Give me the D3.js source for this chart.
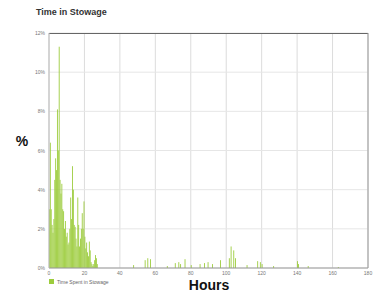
<!DOCTYPE html>
<html>
<head>
<meta charset="utf-8">
<script src="https://cdn.jsdelivr.net/npm/d3@7"></script>
<style>
  body { margin: 0; background: #fff; }
  svg { display: block; font-family: "Liberation Sans", Arial, sans-serif; }
</style>
</head>
<body>
<div id="chart"></div>
<script>
// hours (bin start) and % of time spent in stowage
const hours = [
  0, 0.5, 1, 1.5, 2, 2.5, 3, 3.5, 4, 4.5, 5, 5.5, 6, 6.5, 7, 7.5, 8, 8.5, 9, 9.5,
  10, 10.5, 11, 11.5, 12, 12.5, 13, 13.5, 14, 14.5, 15, 15.5, 16, 16.5, 17, 17.5,
  18, 18.5, 19, 19.5, 20, 20.5, 21, 21.5, 22, 22.5, 23, 23.5, 24, 24.5, 25, 25.5,
  26, 26.5, 27,
  47.5, 54, 55.5, 57, 66.5, 71, 73, 74, 76.5, 80, 85, 87.5, 89.5, 92, 96.5,
  101.5, 102.5, 104, 105, 111.5, 117.5, 119, 120, 126.5, 140, 140.5, 146, 163
];
const percent = [
  3.0, 6.4, 3.0, 2.2, 1.8, 2.5, 4.5, 5.6, 5.0, 8.1, 6.0, 11.3, 4.5, 3.8, 4.3, 3.0, 2.9, 2.0, 2.4, 1.6,
  1.8, 1.2, 1.3, 2.0, 3.6, 2.5, 5.2, 4.0, 2.2, 2.1, 1.5, 1.1, 3.6, 2.2, 1.1, 1.5,
  2.0, 2.8, 2.0, 3.4, 1.6, 1.0, 1.3, 0.8, 0.6, 1.35, 0.9, 0.3, 0.2, 0.1, 0.2, 0.4,
  0.66, 0.5, 0.2,
  0.15, 0.4, 0.5, 0.45, 0.1, 0.25, 0.3, 0.2, 0.45, 0.15, 0.2, 0.25, 0.3, 0.2, 0.4,
  0.5, 1.1, 0.9, 0.5, 0.15, 0.35, 0.3, 0.2, 0.1, 0.35, 0.2, 0.1, 0.05
];
const xTicks = [0, 20, 40, 60, 80, 100, 120, 140, 160, 180];
const yTicks = [0, 2, 4, 6, 8, 10, 12];
const binWidth = 0.5;

const data = hours.map((h, i) => ({ h: h, v: percent[i] }));

const W = 381, H = 294;
const M = { LEFT: 49, RIGHT: 13, TOP: 33, BOTTOM: 26 };
const plotW = W - M.LEFT - M.RIGHT;
const plotH = H - M.TOP - M.BOTTOM;

const svg = d3.select("#chart").append("svg")
    .attr("width", W)
    .attr("height", H);

const x = d3.scaleLinear().domain([0, 180]).range([0, plotW]);
const y = d3.scaleLinear().domain([0, 12]).range([plotH, 0]);

// title
svg.append("text")
    .attr("x", 36)
    .attr("y", 15)
    .style("font-size", "9px")
    .style("font-weight", "bold")
    .attr("fill", "#333")
    .text("Time in Stowage");

const g = svg.append("g")
    .attr("transform", `translate(${M.LEFT},${M.TOP})`);

// grid
g.selectAll(".vgrid").data(xTicks).join("line")
    .attr("x1", d => x(d)).attr("x2", d => x(d))
    .attr("y1", 0).attr("y2", plotH)
    .attr("stroke", "#dcdcdc").attr("stroke-width", 1);
g.selectAll(".hgrid").data(yTicks).join("line")
    .attr("x1", 0).attr("x2", plotW)
    .attr("y1", d => y(d)).attr("y2", d => y(d))
    .attr("stroke", "#e6e6e6").attr("stroke-width", 1);

// bars
g.selectAll(".bar").data(data).join("rect")
    .attr("x", d => x(d.h))
    .attr("y", d => y(d.v))
    .attr("width", x(binWidth) - x(0))
    .attr("height", d => plotH - y(d.v))
    .attr("fill", "#9ccc3c");

// frame
g.append("line").attr("x1", 0).attr("x2", plotW).attr("y1", 0.5).attr("y2", 0.5)
    .attr("stroke", "#666").attr("stroke-width", 1.2);
g.append("line").attr("x1", plotW).attr("x2", plotW).attr("y1", 0).attr("y2", plotH)
    .attr("stroke", "#999");
g.append("line").attr("x1", 0).attr("x2", plotW).attr("y1", plotH).attr("y2", plotH)
    .attr("stroke", "#999");
g.append("line").attr("x1", 0).attr("x2", 0).attr("y1", 0).attr("y2", plotH)
    .attr("stroke", "#bbb");

// tick labels
g.selectAll(".ylab").data(yTicks).join("text")
    .attr("x", -4)
    .attr("y", d => y(d) + 2)
    .attr("text-anchor", "end")
    .style("font-size", "5px")
    .attr("fill", "#777")
    .text(d => d + "%");
g.selectAll(".xlab").data(xTicks).join("text")
    .attr("x", d => x(d))
    .attr("y", plotH + 7)
    .attr("text-anchor", "middle")
    .style("font-size", "5px")
    .attr("fill", "#777")
    .text(d => d);

// axis titles
svg.append("text")
    .attr("x", 22)
    .attr("y", 146)
    .attr("text-anchor", "middle")
    .style("font-size", "14px")
    .style("font-weight", "bold")
    .attr("fill", "#111")
    .text("%");
svg.append("text")
    .attr("x", 209)
    .attr("y", 290)
    .attr("text-anchor", "middle")
    .style("font-size", "14px")
    .style("font-weight", "bold")
    .attr("fill", "#111")
    .text("Hours");

// legend
svg.append("rect")
    .attr("x", 49).attr("y", 279)
    .attr("width", 5).attr("height", 5)
    .attr("fill", "#9ccc3c");
svg.append("text")
    .attr("x", 57).attr("y", 284)
    .style("font-size", "5px")
    .attr("fill", "#666")
    .text("Time Spent in Stowage");
</script>
</body>
</html>
